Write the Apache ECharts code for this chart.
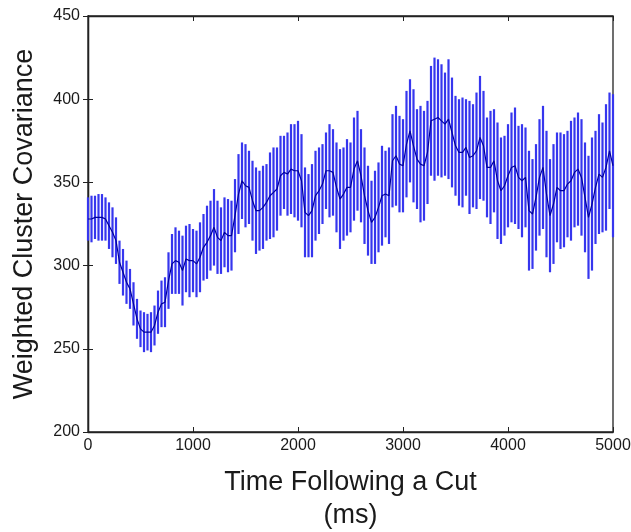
<!DOCTYPE html>
<html>
<head>
<meta charset="utf-8">
<script src="https://cdn.jsdelivr.net/npm/echarts@6/dist/echarts.min.js"></script>
<style>
  html, body { margin: 0; padding: 0; background: #fff; }
  #chart { width: 631px; height: 532px; }
</style>
</head>
<body>
<div id="chart"></div>
<script>
// Time bins: one per video frame (33.3 ms), 0 .. 5000 ms
const frameCount = 151;
const frameMs = 5000 / 150;

// Mean weighted cluster covariance per frame
const meanValues = [
  328, 328, 329, 329, 329, 328, 324, 320, 315, 302,
  296, 290, 286, 277, 268, 262, 260, 260, 260, 264,
  272, 277, 278, 291, 301, 303, 302, 297, 304, 303,
  303, 301, 305, 311, 314, 318, 323, 317, 315, 320,
  318, 318, 330, 343, 351, 348, 347, 339, 333, 333,
  335, 338, 342, 344, 346, 354, 356, 355, 358, 357,
  357, 351, 332, 330, 333, 342, 345, 349, 357, 357,
  356, 347, 340, 343, 347, 347, 358, 363, 354, 342,
  333, 326, 329, 335, 342, 343, 342, 363, 366, 361,
  360, 373, 381, 372, 364, 361, 360, 368, 387, 388,
  389, 387, 385, 388, 380, 372, 368, 368, 371, 365,
  366, 369, 377, 372, 359, 359, 363, 351, 345, 348,
  354, 359, 360, 353, 351, 353, 333, 331, 341, 353,
  359, 343, 330, 337, 347, 345, 345, 349, 351, 356,
  358, 353, 341, 329, 337, 347, 355, 353, 359, 369,
  360
];

// Half-length of each error bar
const errorValues = [
  13, 14, 13, 14, 14, 13, 14, 15, 14, 13,
  14, 13, 12, 13, 12, 11, 12, 11, 12, 12,
  13, 14, 15, 17, 18, 20, 19, 21, 20, 22,
  19, 20, 21, 20, 22, 21, 23, 22, 20, 21,
  22, 21, 22, 24, 23, 25, 22, 24, 26, 24,
  25, 23, 26, 27, 25, 24, 22, 25, 27, 28,
  30, 28, 27, 25, 28, 27, 26, 24, 23, 28,
  26, 27, 30, 28, 29, 27, 31, 30, 28, 29,
  27, 25, 28, 27, 30, 26, 29, 28, 30, 29,
  28, 32, 31, 34, 30, 35, 33, 31, 33, 37,
  35, 34, 31, 36, 33, 30, 32, 33, 29, 34,
  31, 35, 37, 33, 30, 34, 31, 35, 32, 30,
  31, 33, 35, 31, 34, 30, 36, 33, 32, 35,
  37, 38, 34, 36, 33, 35, 34, 32, 36, 33,
  34, 35, 33, 37, 40, 34, 36, 33, 38, 35,
  43
];

const xTicks = [0, 1000, 2000, 3000, 4000, 5000];
const yTicks = [200, 250, 300, 350, 400, 450];

const timeValues = [];
for (let i = 0; i < frameCount; i++) timeValues.push(i * frameMs);

const meanData = timeValues.map((t, i) => [t, meanValues[i]]);
const barData = timeValues.map((t, i) => [t, meanValues[i] - errorValues[i], meanValues[i] + errorValues[i]]);

const chart = echarts.init(document.getElementById('chart'), null, { renderer: 'canvas' });

const labelFont = { fontFamily: 'Liberation Sans, Arial, sans-serif', color: '#1a1a1a' };
const axisLine = { show: true, lineStyle: { color: '#222', width: 1.3 } };
const plain = v => String(v);

chart.setOption({
  animation: false,
  backgroundColor: '#fff',
  grid: {
    left: 88, right: 18, top: 16, bottom: 100,
    containLabel: false, outerBoundsMode: 'none',
    show: true, borderColor: '#222', borderWidth: 1.3
  },
  xAxis: [{
    type: 'value', min: xTicks[0], max: xTicks[xTicks.length - 1], interval: 1000,
    axisLine: axisLine, splitLine: { show: false },
    axisTick: { inside: true, length: 5, lineStyle: { color: '#222' } },
    axisLabel: Object.assign({ fontSize: 16, margin: 6, showMaxLabel: true, formatter: plain }, labelFont),
    name: 'Time Following a Cut\n(ms)', nameLocation: 'middle', nameGap: 34,
    nameTextStyle: Object.assign({ fontSize: 27, lineHeight: 33 }, labelFont)
  }, {
    type: 'value', position: 'top', min: xTicks[0], max: xTicks[xTicks.length - 1], interval: 1000,
    axisLine: axisLine, splitLine: { show: false },
    axisTick: { inside: true, length: 5, lineStyle: { color: '#222' } },
    axisLabel: { show: false }
  }],
  yAxis: [{
    type: 'value', min: yTicks[0], max: yTicks[yTicks.length - 1], interval: 50,
    axisLine: axisLine, splitLine: { show: false },
    axisTick: { inside: true, length: 5, lineStyle: { color: '#222' } },
    axisLabel: Object.assign({ fontSize: 16, margin: 8, formatter: plain }, labelFont),
    name: 'Weighted Cluster Covariance', nameLocation: 'middle', nameGap: 50,
    nameTextStyle: Object.assign({ fontSize: 27 }, labelFont)
  }, {
    type: 'value', position: 'right', min: yTicks[0], max: yTicks[yTicks.length - 1], interval: 50,
    axisLine: axisLine, splitLine: { show: false },
    axisTick: { inside: true, length: 5, lineStyle: { color: '#222' } },
    axisLabel: { show: false }
  }],
  series: [{
    type: 'custom',
    data: barData,
    encode: { x: 0, y: [1, 2] },
    renderItem: function (params, api) {
      const x = api.value(0);
      const lo = api.coord([x, api.value(1)]);
      const hi = api.coord([x, api.value(2)]);
      return {
        type: 'line',
        shape: { x1: lo[0], y1: lo[1], x2: hi[0], y2: hi[1] },
        style: { stroke: '#3636ee', lineWidth: 2.2 }
      };
    },
    z: 2
  }, {
    type: 'line',
    data: meanData,
    showSymbol: false,
    lineStyle: { color: '#00009c', width: 1.2 },
    z: 3
  }]
});
</script>
</body>
</html>
